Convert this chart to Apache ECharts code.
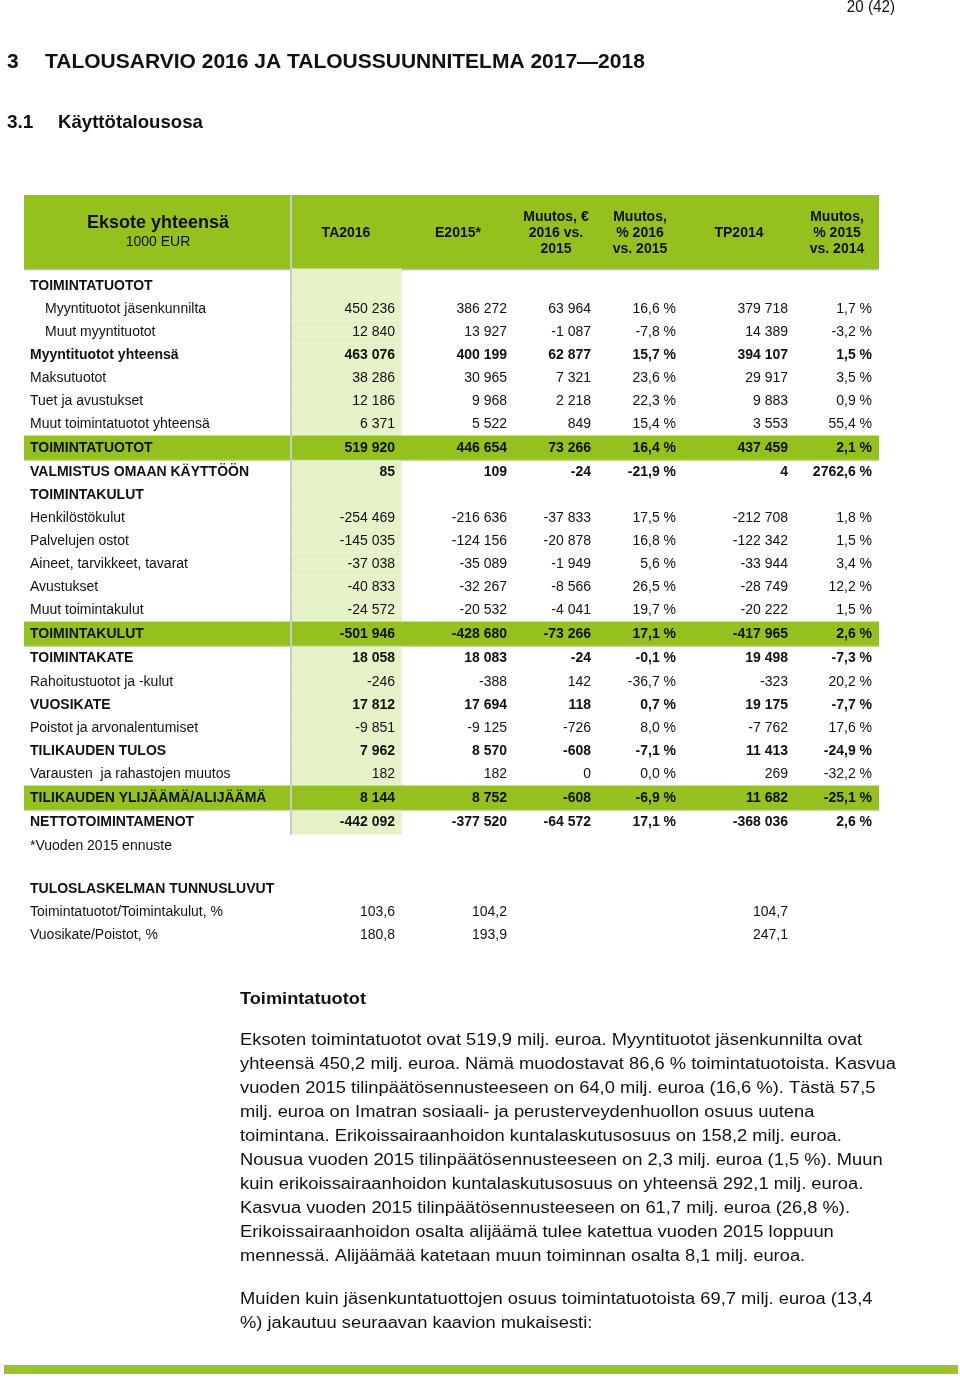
<!DOCTYPE html>
<html>
<head>
<meta charset="utf-8">
<script src="https://cdn.jsdelivr.net/npm/echarts@6/dist/echarts.min.js"></script>
<style>
  html, body { margin: 0; padding: 0; background: #ffffff; }
  #main { width: 960px; height: 1380px; }
</style>
</head>
<body>
<div id="main"></div>
<script>
// ---------- DATA ----------
const columnHeaders = ['TA2016', 'E2015*', 'Muutos, €\n2016 vs.\n2015', 'Muutos,\n% 2016\nvs. 2015', 'TP2014', 'Muutos,\n% 2015\nvs. 2014'];
const rowLabels = [
  'TOIMINTATUOTOT', 'Myyntituotot jäsenkunnilta', 'Muut myyntituotot', 'Myyntituotot yhteensä',
  'Maksutuotot', 'Tuet ja avustukset', 'Muut toimintatuotot yhteensä', 'TOIMINTATUOTOT',
  'VALMISTUS OMAAN KÄYTTÖÖN', 'TOIMINTAKULUT', 'Henkilöstökulut', 'Palvelujen ostot',
  'Aineet, tarvikkeet, tavarat', 'Avustukset', 'Muut toimintakulut', 'TOIMINTAKULUT',
  'TOIMINTAKATE', 'Rahoitustuotot ja -kulut', 'VUOSIKATE', 'Poistot ja arvonalentumiset',
  'TILIKAUDEN TULOS', 'Varausten  ja rahastojen muutos', 'TILIKAUDEN YLIJÄÄMÄ/ALIJÄÄMÄ', 'NETTOTOIMINTAMENOT',
  '*Vuoden 2015 ennuste', '', 'TULOSLASKELMAN TUNNUSLUVUT', 'Toimintatuotot/Toimintakulut, %', 'Vuosikate/Poistot, %'
];
const rowKinds = [
  'section', 'indent', 'indent', 'bold', 'plain', 'plain', 'plain', 'total',
  'bold', 'section', 'plain', 'plain', 'plain', 'plain', 'plain', 'total',
  'bold', 'plain', 'bold', 'plain', 'bold', 'plain', 'total', 'bold',
  'note', 'blank', 'section', 'ratio', 'ratio'
];
const ta2016 = [null, 450236, 12840, 463076, 38286, 12186, 6371, 519920, 85, null, -254469, -145035, -37038, -40833, -24572, -501946, 18058, -246, 17812, -9851, 7962, 182, 8144, -442092, null, null, null, 103.6, 180.8];
const e2015 = [null, 386272, 13927, 400199, 30965, 9968, 5522, 446654, 109, null, -216636, -124156, -35089, -32267, -20532, -428680, 18083, -388, 17694, -9125, 8570, 182, 8752, -377520, null, null, null, 104.2, 193.9];
const muutosEur = [null, 63964, -1087, 62877, 7321, 2218, 849, 73266, -24, null, -37833, -20878, -1949, -8566, -4041, -73266, -24, 142, 118, -726, -608, 0, -608, -64572, null, null, null, null, null];
const muutosPct16 = [null, 16.6, -7.8, 15.7, 23.6, 22.3, 15.4, 16.4, -21.9, null, 17.5, 16.8, 5.6, 26.5, 19.7, 17.1, -0.1, -36.7, 0.7, 8.0, -7.1, 0.0, -6.9, 17.1, null, null, null, null, null];
const tp2014 = [null, 379718, 14389, 394107, 29917, 9883, 3553, 437459, 4, null, -212708, -122342, -33944, -28749, -20222, -417965, 19498, -323, 19175, -7762, 11413, 269, 11682, -368036, null, null, null, 104.7, 247.1];
const muutosPct15 = [null, 1.7, -3.2, 1.5, 3.5, 0.9, 55.4, 2.1, 2762.6, null, 1.8, 1.5, 3.4, 12.2, 1.5, 2.6, -7.3, 20.2, -7.7, 17.6, -24.9, -32.2, -25.1, 2.6, null, null, null, null, null];

const pageNumber = '20 (42)';
const titleNum = '3';
const titleText = 'TALOUSARVIO 2016 JA TALOUSSUUNNITELMA 2017—2018';
const subNum = '3.1';
const subText = 'Käyttötalousosa';
const headCellTitle = 'Eksote yhteensä';
const headCellUnit = '1000 EUR';
const sectionHeading = 'Toimintatuotot';
const paragraph1 = [
  'Eksoten toimintatuotot ovat 519,9 milj. euroa. Myyntituotot jäsenkunnilta ovat',
  'yhteensä 450,2 milj. euroa. Nämä muodostavat 86,6 % toimintatuotoista. Kasvua',
  'vuoden 2015 tilinpäätösennusteeseen on 64,0 milj. euroa (16,6 %). Tästä 57,5',
  'milj. euroa on Imatran sosiaali- ja perusterveydenhuollon osuus uutena',
  'toimintana. Erikoissairaanhoidon kuntalaskutusosuus on 158,2 milj. euroa.',
  'Nousua vuoden 2015 tilinpäätösennusteeseen on 2,3 milj. euroa (1,5 %). Muun',
  'kuin erikoissairaanhoidon kuntalaskutusosuus on yhteensä 292,1 milj. euroa.',
  'Kasvua vuoden 2015 tilinpäätösennusteeseen on 61,7 milj. euroa (26,8 %).',
  'Erikoissairaanhoidon osalta alijäämä tulee katettua vuoden 2015 loppuun',
  'mennessä. Alijäämää katetaan muun toiminnan osalta 8,1 milj. euroa.'
];
const paragraph2 = [
  'Muiden kuin jäsenkuntatuottojen osuus toimintatuotoista 69,7 milj. euroa (13,4',
  '%) jakautuu seuraavan kaavion mukaisesti:'
];

// ---------- LAYOUT / STYLE ----------
const GREEN = '#95c11f';
const LIGHT = '#e5f1c6';
const SEP = '#c9c9c9';
const TXT = '#111111';
const FONT = '"Liberation Sans", Arial, sans-serif';
const tableLeft = 24, tableRight = 879, sepX = 291, lightRight = 402;
const labelX = 30, indentX = 45;
const colRight = [395, 507, 591, 676, 788, 872];
const headCenters = [346, 458, 556, 640, 739, 837];
const headTop = 195, headBottom = 270;
const lastShadedRow = 23;
// row heights (px) per row kind, for layout only
const rowHeightOf = (i) => {
  const k = rowKinds[i];
  if (k === 'total') return 25;
  if (k === 'blank') return 20;
  if (i === 16 || i === 23) return 24;
  return 23;
};
const rowHeights = rowLabels.map((_, i) => rowHeightOf(i));
const rowCenters = [];
rowHeights.reduce((acc, h) => { rowCenters.push(acc + h / 2); return acc + h; }, 0);
const tableHeight = rowHeights.reduce((a, b) => a + b, 0);
const tableTop = 286 - rowHeights[0] / 2;

function fmtInt(v) {
  const s = Math.abs(Math.round(v)).toString().replace(/\B(?=(\d{3})+(?!\d))/g, ' ');
  return (v < 0 ? '-' : '') + s;
}
function fmtDec(v) { return v.toFixed(1).replace('.', ','); }
function fmtPct(v) { return fmtDec(v) + ' %'; }

const columns = [ta2016, e2015, muutosEur, muutosPct16, tp2014, muutosPct15];

function renderItem(params, api) {
  const i = params.dataIndex;
  const kind = rowKinds[i];
  const yv = api.value(1);
  const h = rowHeights[i];
  const top = api.coord([0, yv - h / 2])[1];
  const bottom = api.coord([0, yv + h / 2])[1];
  const band = bottom - top;
  const cy = api.coord([0, yv])[1];
  const X = v => api.coord([v, yv])[0];
  const children = [];
  if (kind === 'total') {
    children.push({ type: 'rect', shape: { x: X(tableLeft), y: top, width: X(tableRight) - X(tableLeft), height: band },
      style: { fill: GREEN } });
    children.push({ type: 'line', shape: { x1: X(tableLeft), y1: top + band - 0.5, x2: X(tableRight), y2: top + band - 0.5 },
      style: { stroke: '#b9c9a0', lineWidth: 1 } });
  } else if (i <= lastShadedRow) {
    const extra = i === 0 ? 6 : 0;
    children.push({ type: 'rect', shape: { x: X(sepX), y: top - extra, width: X(lightRight) - X(sepX), height: band + extra },
      style: { fill: LIGHT } });
  }
  if (i <= lastShadedRow) {
    const extra = i === 0 ? 6 : 0;
    children.push({ type: 'line', shape: { x1: X(sepX), y1: top - extra, x2: X(sepX), y2: top + band },
      style: { stroke: SEP, lineWidth: 2 } });
  }
  const bold = (kind === 'section' || kind === 'bold' || kind === 'total');
  const weight = bold ? 'bold' : 'normal';
  if (rowLabels[i]) {
    children.push({ type: 'text', x: X(kind === 'indent' ? indentX : labelX), y: cy,
      style: { text: rowLabels[i], fill: TXT, font: weight + ' 14px ' + FONT,
        textAlign: 'left', textVerticalAlign: 'middle', align: 'left', verticalAlign: 'middle' } });
  }
  columns.forEach((col, c) => {
    const v = col[i];
    if (v === null || v === undefined) return;
    let s;
    if (kind === 'ratio') s = fmtDec(v);
    else if (c === 3 || c === 5) s = fmtPct(v);
    else s = fmtInt(v);
    children.push({ type: 'text', x: X(colRight[c]), y: cy,
      style: { text: s, fill: TXT, font: weight + ' 14px ' + FONT,
        textAlign: 'right', textVerticalAlign: 'middle', align: 'right', verticalAlign: 'middle' } });
  });
  return { type: 'group', children };
}

// ---------- GRAPHIC (page text + table header) ----------
const graphics = [];
function txt(text, x, y, font, align, extra, scaleX) {
  graphics.push({ type: 'text', x, y, scaleX: scaleX || 1, originX: 0, originY: 0,
    style: Object.assign({ text, fill: TXT, font, textAlign: align || 'left', textVerticalAlign: 'middle',
      align: align || 'left', verticalAlign: 'middle' }, extra || {}) });
}
txt(pageNumber, 895, 8, '16px ' + FONT, 'right', null, 0.95);
txt(titleNum, 7, 62, 'bold 21px ' + FONT, 'left');
txt(titleText, 45, 62, 'bold 21px ' + FONT, 'left');
txt(subNum, 7, 123, 'bold 19px ' + FONT, 'left');
txt(subText, 58, 123, 'bold 19px ' + FONT, 'left', null, 0.98);

graphics.push({ type: 'rect', shape: { x: tableLeft, y: headTop, width: tableRight - tableLeft, height: headBottom - headTop },
  style: { fill: GREEN } });
graphics.push({ type: 'line', shape: { x1: tableLeft, y1: headBottom - 0.5, x2: tableRight, y2: headBottom - 0.5 },
  style: { stroke: '#b7c6a0', lineWidth: 1.5 } });
graphics.push({ type: 'line', shape: { x1: sepX, y1: headTop, x2: sepX, y2: headBottom + 4 },
  style: { stroke: SEP, lineWidth: 2 } });
txt(headCellTitle, 158, 223, 'bold 18px ' + FONT, 'center');
txt(headCellUnit, 158, 242, '14px ' + FONT, 'center');
columnHeaders.forEach((h, c) => {
  txt(h, headCenters[c], 233, 'bold 14px ' + FONT, 'center', { lineHeight: 16 });
});

txt(sectionHeading, 240, 999, 'bold 17px ' + FONT, 'left', null, 1.07);
paragraph1.forEach((line, k) => txt(line, 240, 1041 + k * 24, '16px ' + FONT, 'left', null, 1.145));
paragraph2.forEach((line, k) => txt(line, 240, 1300 + k * 24, '16px ' + FONT, 'left', null, 1.145));
graphics.push({ type: 'rect', shape: { x: 4, y: 1365, width: 954, height: 9 }, style: { fill: '#9cc42a' } });

// ---------- CHART ----------
const chart = echarts.init(document.getElementById('main'), null, { renderer: 'canvas' });
chart.setOption({
  backgroundColor: '#ffffff',
  animation: false,
  grid: { left: 0, right: 0, top: tableTop, height: tableHeight, containLabel: false },
  xAxis: { type: 'value', min: 0, max: 960, show: false },
  yAxis: { type: 'value', inverse: true, min: 0, max: tableHeight, show: false },
  series: [{
    type: 'custom',
    renderItem,
    encode: { x: 0, y: 1 },
    data: rowLabels.map((_, i) => [0, rowCenters[i]]),
    silent: true,
    clip: false
  }],
  graphic: { elements: graphics }
});
</script>
</body>
</html>
